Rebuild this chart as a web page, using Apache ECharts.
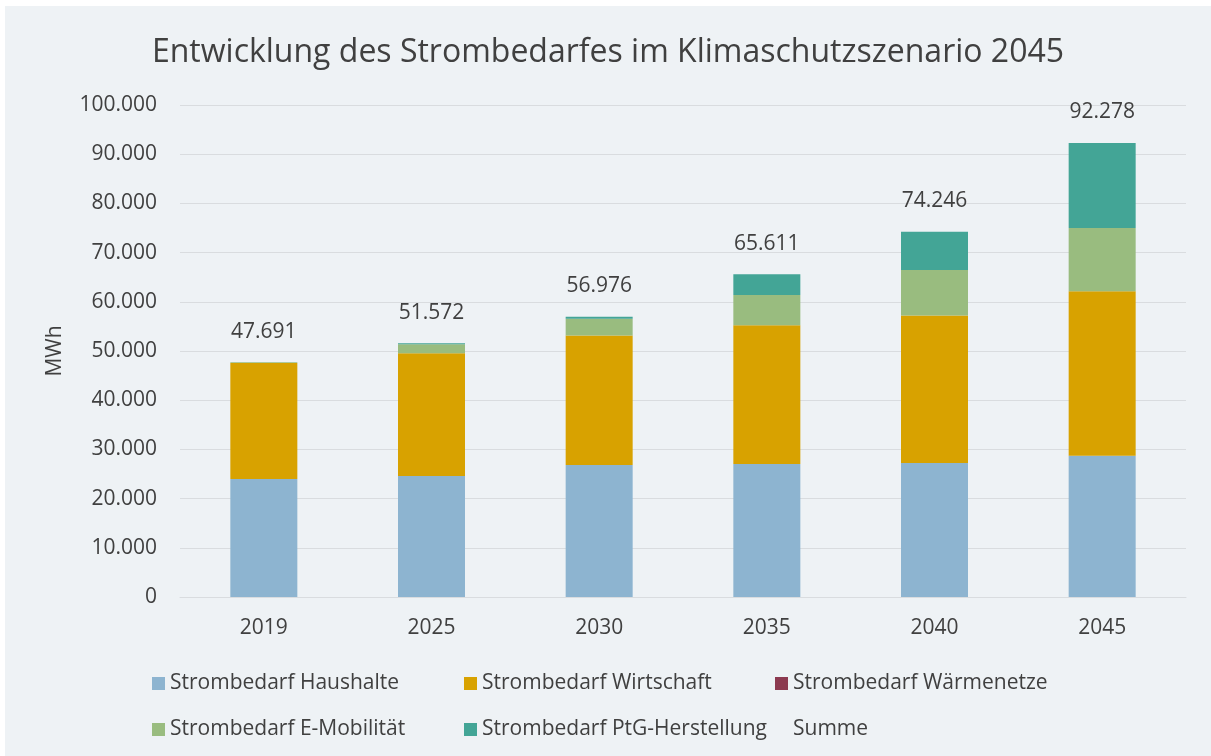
<!DOCTYPE html>
<html lang="de">
<head>
<meta charset="utf-8">
<title>Entwicklung des Strombedarfes im Klimaschutzszenario 2045</title>
<script src="https://cdn.jsdelivr.net/npm/echarts@6/dist/echarts.min.js"></script>
<style>
  html, body { margin: 0; padding: 0; background: #ffffff; }
  #chart { position: absolute; left: 5px; top: 6px; width: 1206px; height: 750px; }
</style>
</head>
<body>
<div id="chart"></div>
<script>
// Jahre (Kategorien)
const years = ['2019', '2025', '2030', '2035', '2040', '2045'];

// Strombedarf je Sektor in MWh
const haushalte   = [24000, 24600, 26830, 27030, 27240, 28720];
const wirtschaft  = [23580, 24930, 26300, 28190, 30000, 33400];
const waermenetze = [0, 0, 0, 0, 0, 0];
const eMobilitaet = [111, 1840, 3400, 6180, 9200, 12900];
const ptg         = [0, 202, 446, 4211, 7806, 17258];

// Summe je Jahr (Beschriftung über den Säulen)
const summe = [47691, 51572, 56976, 65611, 74246, 92278];

// Achsenteilung
const yMin = 0;
const yMax = 100000;
const yStep = 10000;

const textColor = '#404040';
const fontFamily = '"Open Sans", "Noto Sans", sans-serif';
const fontSize = 21;

// deutsche Tausendertrennung
const fmt = v => String(Math.round(v)).replace(/\B(?=(\d{3})+(?!\d))/g, '.');

const chart = echarts.init(document.getElementById('chart'), null, { renderer: 'canvas' });

const stackSeries = (name, data, color) => ({
  name: name,
  type: 'bar',
  stack: 'bedarf',
  data: data,
  barWidth: 67,
  barGap: '-100%',
  itemStyle: { color: color },
  emphasis: { disabled: true }
});

const legendBase = {
  orient: 'vertical',
  itemWidth: 13,
  itemHeight: 13,
  itemGap: 25,
  icon: 'rect',
  selectedMode: false,
  textStyle: { color: textColor, fontSize: fontSize, fontFamily: fontFamily }
};

chart.setOption({
  backgroundColor: '#EEF2F5',
  animation: false,
  textStyle: { fontFamily: fontFamily },
  title: {
    text: 'Entwicklung des Strombedarfes im Klimaschutzszenario 2045',
    left: 'center',
    top: 26,
    textStyle: { color: textColor, fontSize: 32, fontWeight: 'normal', fontFamily: fontFamily }
  },
  legend: [
    Object.assign({}, legendBase, { left: 142, top: 662, data: ['Strombedarf Haushalte', 'Strombedarf E-Mobilität'] }),
    Object.assign({}, legendBase, { left: 454, top: 662, data: ['Strombedarf Wirtschaft', 'Strombedarf PtG-Herstellung'] }),
    Object.assign({}, legendBase, { left: 765, top: 662, data: ['Strombedarf Wärmenetze', { name: 'Summe', itemStyle: { opacity: 0 } }] })
  ],
  grid: { left: 175, right: 25, top: 99, bottom: 159, containLabel: false },
  xAxis: {
    type: 'category',
    data: years,
    axisLine: { show: true, lineStyle: { color: '#D9DCDF', width: 1 } },
    axisTick: { show: false },
    axisLabel: { color: textColor, fontSize: fontSize, margin: 21, fontFamily: fontFamily }
  },
  yAxis: {
    type: 'value',
    min: yMin,
    max: yMax,
    interval: yStep,
    name: 'MWh',
    nameLocation: 'middle',
    nameRotate: 90,
    nameGap: 114,
    nameTextStyle: { color: textColor, fontSize: fontSize, fontFamily: fontFamily },
    axisLine: { show: false },
    axisTick: { show: false },
    splitLine: { lineStyle: { color: '#D9DCDF', width: 1 } },
    axisLabel: { color: textColor, fontSize: fontSize, margin: 23, fontFamily: fontFamily, formatter: v => fmt(v) }
  },
  series: [
    stackSeries('Strombedarf Haushalte', haushalte, '#8DB4D0'),
    stackSeries('Strombedarf Wirtschaft', wirtschaft, '#D8A200'),
    stackSeries('Strombedarf Wärmenetze', waermenetze, '#8C3A50'),
    stackSeries('Strombedarf E-Mobilität', eMobilitaet, '#99BC7F'),
    stackSeries('Strombedarf PtG-Herstellung', ptg, '#43A596'),
    {
      name: 'Summe',
      type: 'bar',
      data: summe,
      barWidth: 67,
      barGap: '-100%',
      z: 1,
      itemStyle: { color: 'rgba(0,0,0,0)' },
      emphasis: { disabled: true },
      label: {
        show: true,
        position: 'top',
        distance: 20,
        color: textColor,
        fontSize: fontSize,
        fontFamily: fontFamily,
        formatter: p => fmt(p.value)
      }
    }
  ]
});
</script>
</body>
</html>
